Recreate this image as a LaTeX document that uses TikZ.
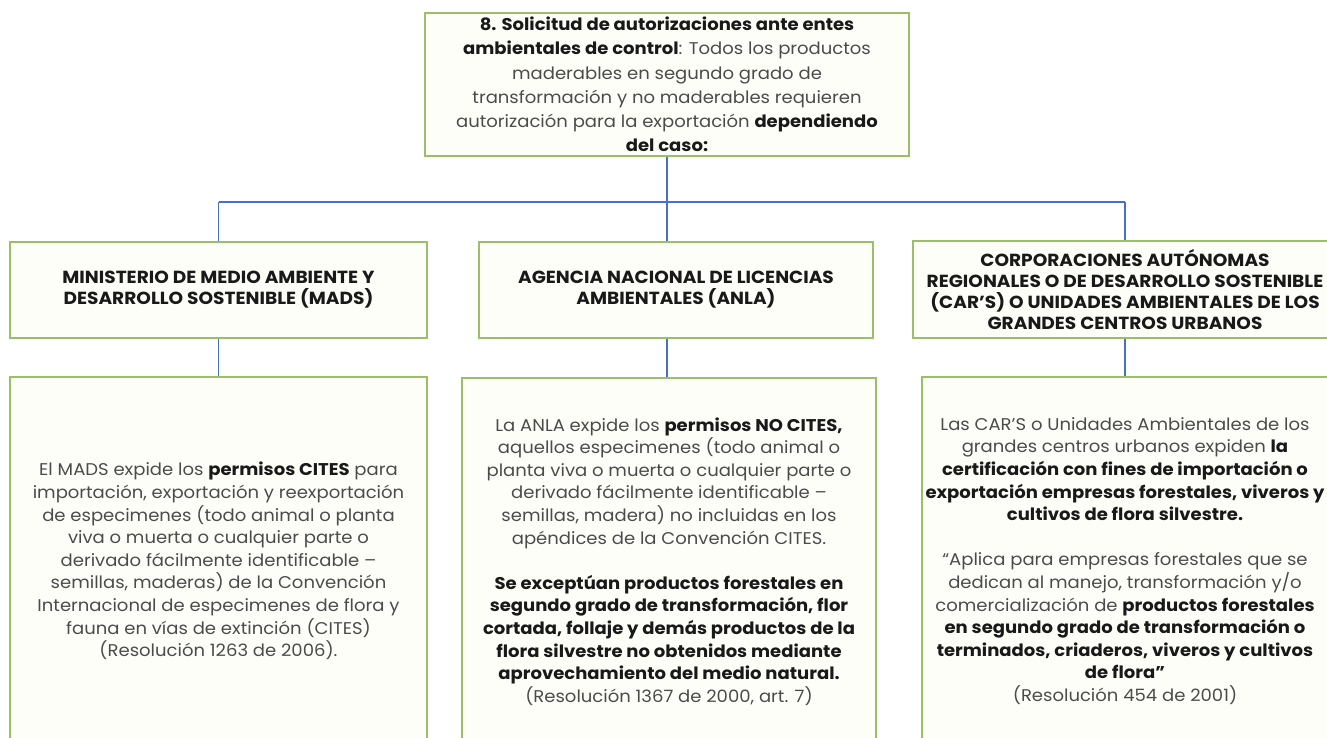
\documentclass[tikz,border=0pt]{standalone}
\usepackage{fontspec}
\setmainfont{Poppins}[FakeStretch=1.06]
\usetikzlibrary{calc}
\definecolor{boxgreen}{RGB}{155,190,105}
\definecolor{linkblue}{RGB}{68,114,196}
\definecolor{txtgray}{RGB}{75,75,75}
\definecolor{boxfill}{RGB}{254,254,249}
\newcommand\bt[1]{{\color{black!90}\bfseries #1}}
\tikzset{
  panel/.style={draw=boxgreen, line width=1.8pt, fill=boxfill, inner sep=0pt,
    align=center, text=txtgray, font=\fontsize{17pt}{22.6pt}\selectfont},
  toppanel/.style={panel, font=\fontsize{17pt}{24.2pt}\selectfont},
  headpanel/.style={panel, text=black!90, font=\bfseries\fontsize{17.5pt}{21pt}\selectfont},
  link/.style={draw=linkblue, line width=1.1pt},
}
\begin{document}
\begin{tikzpicture}[x=1pt,y=-1pt]
\useasboundingbox (0,0) rectangle (1327,738);
\clip (0,0) rectangle (1327,738);
\fill[white] (0,0) rectangle (1327,738);

\node[toppanel, minimum width=484pt, minimum height=143pt] (top) at (667,84.5)
  {\bt{8. Solicitud de autorizaciones ante entes}\\
   \bt{ambientales de control}: Todos los productos\\
   maderables en segundo grado de\\
   transformación y no maderables requieren\\
   autorización para la exportación \bt{dependiendo}\\
   \bt{del caso:}};

\node[headpanel, minimum width=417pt, minimum height=96pt] (l2a) at (218.5,290)
  {MINISTERIO DE MEDIO AMBIENTE Y\\DESARROLLO SOSTENIBLE (MADS)};
\node[headpanel, minimum width=394pt, minimum height=96pt] (l2b) at (676,290)
  {AGENCIA NACIONAL DE LICENCIAS\\AMBIENTALES (ANLA)};
\node[headpanel, minimum width=424pt, minimum height=97pt] (l2c) at (1125,289.5)
  {CORPORACIONES AUTÓNOMAS\\REGIONALES O DE DESARROLLO SOSTENIBLE\\(CAR’S) O UNIDADES AMBIENTALES DE LOS\\GRANDES CENTROS URBANOS};

\node[panel, minimum width=417pt, minimum height=368pt] (l3a) at (218.5,561)
  {El MADS expide los \bt{permisos CITES} para\\
   importación, exportación y reexportación\\
   de especimenes (todo animal o planta\\
   viva o muerta o cualquier parte o\\
   derivado fácilmente identificable –\\
   semillas, maderas) de la Convención\\
   Internacional de especimenes de flora y\\
   fauna en vías de extinción (CITES)\\
   (Resolución 1263 de 2006).};
\node[panel, minimum width=414pt, minimum height=367pt] (l3b) at (669,561.5)
  {La ANLA expide los \bt{permisos NO CITES,}\\
   aquellos especimenes (todo animal o\\
   planta viva o muerta o cualquier parte o\\
   derivado fácilmente identificable –\\
   semillas, madera) no incluidas en los\\
   apéndices de la Convención CITES.\\[22.6pt]
   \bt{Se exceptúan productos forestales en}\\
   \bt{segundo grado de transformación, flor}\\
   \bt{cortada, follaje y demás productos de la}\\
   \bt{flora silvestre no obtenidos mediante}\\
   \bt{aprovechamiento del medio natural.}\\
   (Resolución 1367 de 2000, art. 7)};
\node[panel, minimum width=406pt, minimum height=368pt] (l3c) at (1125,561)
  {Las CAR’S o Unidades Ambientales de los\\
   grandes centros urbanos expiden \bt{la}\\
   \bt{certificación con fines de importación o}\\
   \bt{exportación empresas forestales, viveros y}\\
   \bt{cultivos de flora silvestre.}\\[22.6pt]
   “Aplica para empresas forestales que se\\
   dedican al manejo, transformación y/o\\
   comercialización de \bt{productos forestales}\\
   \bt{en segundo grado de transformación o}\\
   \bt{terminados, criaderos, viveros y cultivos}\\
   \bt{de flora”}\\
   (Resolución 454 de 2001)};

\coordinate (bus) at (668,202);
\draw[link] (top.south) -- (top.south |- bus);
\draw[link] (bus -| l2a.north) -- (bus -| l2c.north);
\draw[link] (bus -| l2a.north) -- (l2a.north);
\draw[link] (top.south |- bus) -- (top.south |- l2b.north);
\draw[link] (bus -| l2c.north) -- (l2c.north);
\draw[link] (l2a.south) -- (l2a.south |- l3a.north);
\draw[link] (top.south |- l2b.south) -- (top.south |- l3b.north);
\draw[link] (l2c.south) -- (l2c.south |- l3c.north);
\end{tikzpicture}
\end{document}
